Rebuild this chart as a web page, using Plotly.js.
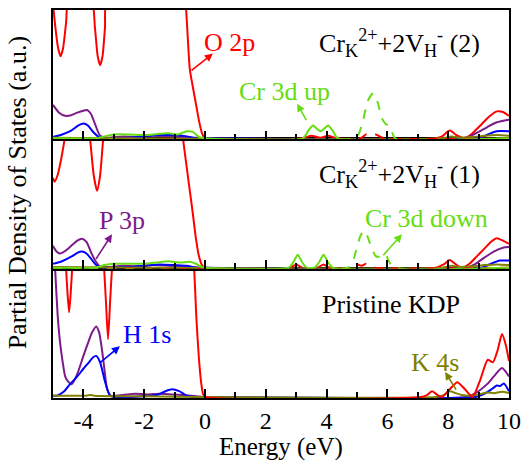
<!DOCTYPE html>
<html>
<head>
<meta charset="utf-8">
<script src="https://cdn.plot.ly/plotly-3.0.1.min.js"></script>
<style>html,body{margin:0;padding:0;background:#fff;}#chart{width:522px;height:460px;}</style>
</head>
<body>
<div id="chart"></div>
<script>
// ---------- tick labels ----------
const energyTickVals = [-4, -2, 0, 2, 4, 6, 8, 10];
const energyTickText = ['-4', '-2', '0', '2', '4', '6', '8', '10'];

// ---------- top panel: Cr_K(2+) + 2V_H(-) (2) ----------
const top_O2p_E = [-5, -4.92, -4.83, -4.75, -4.67, -4.57, -4.47, -3.75, -3.62, -3.53, -3.45, -3.37, -3.29, -3.2, -0.7, -0.62, -0.5, -0.4, -0.3, -0.2, -0.1, 0, 3.2, 3.5, 3.8, 4.05, 4.35, 7.6, 7.8, 8.05, 8.3, 8.55, 8.8, 9.1, 9.35, 9.6, 9.8, 10];
const top_O2p_D = [10.5, 8.6, 7.0, 6.4, 7.0, 9.0, 11, 11, 8.6, 6.4, 5.7, 6.4, 8.6, 11, 12, 10, 5.4, 4.0, 2.7, 1.4, 0.4, 0, 0, 0.2, 0.05, 0.2, 0, 0, 0.15, 0.6, 0.2, 0, 0.4, 1.1, 1.7, 2.1, 2.05, 1.75];
const top_O2pDn_E = [-5, 5.1, 5.3, 5.45, 5.6, 5.75, 5.9, 10];
const top_O2pDn_D = [0, 0, 0.3, 0.15, 0.3, 0.15, 0, 0];
const top_P3p_E = [-5, -4.8, -4.6, -4.4, -4.2, -4.0, -3.88, -3.75, -3.6, -3.45, -3.2, -2.7, -2.2, -1.7, -1.2, -0.8, -0.4, 0, 8.4, 8.7, 9.0, 9.3, 9.6, 10];
const top_P3p_D = [2.6, 2.0, 1.75, 1.8, 2.0, 2.15, 2.2, 1.9, 1.0, 0.2, 0.05, 0.15, 0.1, 0.2, 0.15, 0.1, 0.05, 0, 0, 0.15, 0.5, 0.9, 1.25, 1.45];
const top_H1s_E = [-5, -4.7, -4.4, -4.2, -4.0, -3.85, -3.7, -3.5, -3.3, -2.5, -2.0, -1.5, -1.0, -0.6, -0.3, 0, 9.0, 9.3, 9.6, 10];
const top_H1s_D = [0.1, 0.3, 0.6, 0.95, 1.15, 1.0, 0.55, 0.12, 0, 0.05, 0.15, 0.25, 0.25, 0.15, 0, 0, 0, 0.3, 0.55, 0.55];
const top_K4s_E = [-5, 7.8, 8.1, 8.4, 8.8, 9.2, 9.6, 10];
const top_K4s_D = [0.05, 0, 0.15, 0.05, 0.1, 0.2, 0.25, 0.2];
const top_Cr3dUp_E = [-5, -3.6, -3.3, -3.0, -2.5, -2.0, -1.5, -1.2, -0.9, -0.6, -0.4, -0.2, 0, 3.22, 3.4, 3.55, 3.68, 3.8, 3.92, 4.05, 4.2, 4.37, 10];
const top_Cr3dUp_D = [0, 0, 0.15, 0.3, 0.3, 0.25, 0.35, 0.4, 0.3, 0.55, 0.5, 0.1, 0, 0, 0.6, 1.0, 0.75, 0.55, 0.75, 1.0, 0.6, 0, 0];
const top_Cr3dDn_E = [-5, 4.9, 5.05, 5.2, 5.35, 5.53, 5.68, 5.82, 5.95, 6.05, 6.15, 6.25, 10];
const top_Cr3dDn_D = [0, 0, 0.3, 1.4, 2.9, 3.5, 2.8, 1.55, 1.1, 1.0, 0.5, 0, 0];

// ---------- middle panel: Cr_K(2+) + 2V_H(-) (1) ----------
const mid_O2p_E = [-5, -4.95, -4.85, -4.72, -4.6, -4.5, -3.9, -3.78, -3.66, -3.55, -3.45, -3.35, -3.25, -0.8, -0.72, -0.6, -0.5, -0.4, -0.3, -0.2, -0.1, 0, 2.8, 3.0, 3.2, 3.7, 3.9, 4.1, 7.6, 7.85, 8.05, 8.25, 8.45, 8.7, 8.95, 9.2, 9.4, 9.6, 9.8, 10];
const mid_O2p_D = [7.0, 6.7, 7.2, 8.6, 10.3, 12, 12, 10, 7.2, 6.0, 7.2, 10, 12, 12, 10, 7.8, 6.0, 4.2, 2.3, 0.9, 0.2, 0, 0, 0.25, 0, 0, 0.25, 0, 0, 0.25, 0.6, 0.25, 0, 0.3, 0.9, 1.5, 2.0, 2.3, 2.1, 1.85];
const mid_O2pDn_E = [-5, 4.85, 5.0, 5.15, 5.3, 5.45, 5.6, 10];
const mid_O2pDn_D = [0, 0, 0.25, 0.15, 0.3, 0.15, 0, 0];
const mid_P3p_E = [-5, -4.9, -4.77, -4.6, -4.4, -4.2, -4.05, -3.9, -3.75, -3.6, -3.45, -3.2, -2.7, -2.2, -1.7, -1.2, -0.8, -0.4, 0, 8.6, 8.9, 9.2, 9.5, 9.8, 10];
const mid_P3p_D = [1.7, 1.3, 1.1, 1.3, 1.7, 2.1, 2.25, 2.0, 1.2, 0.5, 0.1, 0.05, 0.15, 0.1, 0.2, 0.15, 0.1, 0.05, 0, 0, 0.3, 0.8, 1.25, 1.55, 1.6];
const mid_H1s_E = [-5, -4.7, -4.4, -4.2, -4.05, -3.9, -3.75, -3.6, -3.4, -2.5, -2.0, -1.5, -1.0, -0.6, -0.3, 0, 9.1, 9.4, 9.7, 10];
const mid_H1s_D = [0.3, 0.5, 0.85, 1.15, 1.25, 1.1, 0.7, 0.25, 0, 0.05, 0.15, 0.25, 0.2, 0.15, 0, 0, 0, 0.3, 0.55, 0.55];
const mid_K4s_E = [-5, 7.8, 8.1, 8.4, 8.8, 9.2, 9.6, 10];
const mid_K4s_D = [0.05, 0, 0.15, 0.05, 0.1, 0.2, 0.25, 0.2];
const mid_Cr3dUp_E = [-5, -3.6, -3.3, -3.0, -2.5, -2.0, -1.6, -1.2, -0.8, -0.5, -0.3, -0.1, 0, 2.75, 2.9, 3.05, 3.2, 3.35, 3.6, 3.75, 3.9, 4.05, 4.2, 10];
const mid_Cr3dUp_D = [0, 0, 0.2, 0.3, 0.3, 0.3, 0.4, 0.5, 0.4, 0.45, 0.3, 0.05, 0, 0, 0.4, 1.0, 0.4, 0, 0, 0.4, 1.0, 0.4, 0, 0];
const mid_Cr3dDn_E = [-5, 4.7, 4.85, 5.0, 5.1, 5.23, 5.35, 5.5, 5.62, 5.72, 5.85, 5.95, 6.05, 6.2, 10];
const mid_Cr3dDn_D = [0, 0, 0.4, 1.6, 2.4, 2.9, 2.4, 1.4, 0.9, 0.85, 1.1, 1.0, 0.5, 0, 0];

// ---------- bottom panel: Pristine KDP ----------
const bot_O2p_E = [-5, -4.62, -4.57, -4.52, -4.47, -4.42, -4.37, -4.3, -3.4, -3.32, -3.26, -3.19, -3.12, -3.06, -3.0, -0.45, -0.36, -0.28, -0.2, -0.12, -0.06, 0, 7.1, 7.3, 7.47, 7.65, 7.8, 8.05, 8.3, 8.55, 8.8, 9.05, 9.3, 9.47, 9.62, 9.77, 9.9, 10];
const bot_O2p_D = [13, 12, 10, 8, 6.6, 8, 10, 12, 12, 10, 7.5, 4.5, 7.5, 10, 12, 12, 10, 6, 3, 1, 0.2, 0, 0, 0.15, 0.45, 0.15, 0, 0.6, 1.15, 0.6, 0, 1.3, 2.9, 2.7, 3.6, 4.9, 4.0, 2.8];
const bot_P3p_E = [-5, -4.93, -4.85, -4.77, -4.68, -4.6, -4.5, -4.38, -4.2, -4.0, -3.85, -3.72, -3.58, -3.48, -3.39, -3.3, -3.22, -3.1, -2.7, -2.3, -1.9, -1.5, -1.1, -0.7, -0.3, 0, 8.6, 8.9, 9.28, 9.5, 9.77, 10];
const bot_P3p_D = [14, 10, 6.5, 4.3, 2.7, 1.6, 1.2, 1.0, 1.8, 3.2, 4.2, 5.0, 5.5, 5.0, 3.7, 2.0, 0.6, 0.1, 0.15, 0.25, 0.2, 0.25, 0.2, 0.15, 0.05, 0, 0, 0.3, 1.0, 1.6, 2.25, 1.6];
const bot_H1s_E = [-5, -4.87, -4.65, -4.44, -4.2, -4.0, -3.82, -3.68, -3.58, -3.45, -3.29, -3.12, -2.9, -2.0, -1.58, -1.3, -1.08, -0.85, -0.6, -0.3, 0, 8.9, 9.15, 9.4, 9.6, 9.7, 9.83, 10];
const bot_H1s_D = [0.1, 0.1, 0.4, 1.0, 1.6, 2.2, 2.7, 3.1, 3.2, 2.7, 1.2, 0.1, 0, 0.05, 0.15, 0.45, 0.6, 0.45, 0.1, 0, 0, 0, 0.2, 0.55, 0.9, 0.85, 1.05, 0.45];
const bot_K4s_E = [-5, -3.9, -3.78, -3.65, -2, 0, 7.6, 7.85, 8.05, 8.25, 8.45, 8.7, 9.0, 9.28, 9.5, 9.77, 10];
const bot_K4s_D = [0.1, 0.1, 0.15, 0.1, 0.05, 0, 0, 0.15, 0.45, 0.3, 0.15, 0.1, 0.2, 0.35, 0.3, 0.4, 0.3];

// ---------- colours ----------
const cO = '#ff0000', cP = '#7d1a8a', cH = '#0000ff', cK = '#808000', cCr = '#66dd11';
const SERIF = 'Liberation Serif';

function tr(E, D, color, xa, ya, dash) {
  return {x: E, y: D, type: 'scatter', mode: 'lines', xaxis: xa, yaxis: ya,
    line: {color: color, width: 2, shape: 'spline', smoothing: 0.6, dash: dash || 'solid'},
    hoverinfo: 'skip', showlegend: false};
}

const data = [
  tr(top_O2p_E, top_O2p_D, cO, 'x3', 'y3'),
  tr(top_P3p_E, top_P3p_D, cP, 'x3', 'y3'),
  tr(top_H1s_E, top_H1s_D, cH, 'x3', 'y3'),
  tr(top_K4s_E, top_K4s_D, cK, 'x3', 'y3'),
  tr(top_O2pDn_E, top_O2pDn_D, cO, 'x3', 'y3', 'dash'),
  tr(top_Cr3dDn_E, top_Cr3dDn_D, cCr, 'x3', 'y3', 'dash'),
  tr(top_Cr3dUp_E, top_Cr3dUp_D, cCr, 'x3', 'y3'),
  tr(mid_O2p_E, mid_O2p_D, cO, 'x2', 'y2'),
  tr(mid_P3p_E, mid_P3p_D, cP, 'x2', 'y2'),
  tr(mid_H1s_E, mid_H1s_D, cH, 'x2', 'y2'),
  tr(mid_K4s_E, mid_K4s_D, cK, 'x2', 'y2'),
  tr(mid_O2pDn_E, mid_O2pDn_D, cO, 'x2', 'y2', 'dash'),
  tr(mid_Cr3dDn_E, mid_Cr3dDn_D, cCr, 'x2', 'y2', 'dash'),
  tr(mid_Cr3dUp_E, mid_Cr3dUp_D, cCr, 'x2', 'y2'),
  tr(bot_P3p_E, bot_P3p_D, cP, 'x', 'y'),
  tr(bot_H1s_E, bot_H1s_D, cH, 'x', 'y'),
  tr(bot_K4s_E, bot_K4s_D, cK, 'x', 'y'),
  tr(bot_O2p_E, bot_O2p_D, cO, 'x', 'y')
];

function xax(anchor, labels) {
  const a = {
    anchor: anchor, domain: [0, 1], range: [-5, 10],
    tickmode: 'array', tickvals: energyTickVals, ticktext: energyTickText,
    showticklabels: labels, ticks: 'inside', ticklen: 9, tickwidth: 1.5, tickcolor: '#000',
    minor: {tickmode: 'linear', tick0: 0, dtick: 1, ticks: 'inside', ticklen: 6, tickwidth: 1.5, tickcolor: '#000'},
    showline: true, mirror: true, linecolor: '#000', linewidth: 1.5,
    showgrid: false, zeroline: false,
    tickfont: {family: SERIF, size: 24, color: '#000'}
  };
  if (anchor !== 'y') a.matches = 'x';
  return a;
}
function yax(dom) {
  return {domain: dom, range: [-0.08, 10], showticklabels: false, ticks: '',
    showline: true, mirror: true, linecolor: '#000', linewidth: 1.5,
    showgrid: false, zeroline: false, fixedrange: true};
}

function lbl(text, x, y, xr, yr, color) {
  return {text: text, x: x, y: y, xref: xr, yref: yr, showarrow: false,
    font: {family: SERIF, size: 26, color: color}};
}
function arr(hx, hy, tx, ty, xr, yr, color) {
  return {text: '', x: hx, y: hy, ax: tx, ay: ty, xref: xr, yref: yr, axref: xr, ayref: yr,
    showarrow: true, arrowhead: 2, arrowsize: 1, arrowwidth: 1.6, arrowcolor: color, standoff: 0, startstandoff: 0};
}

const annotations = [
  lbl('O 2p', 0.82, 7.5, 'x3', 'y3', cO),
  arr(0.26, 6.6, -0.49, 5.2, 'x3', 'y3', cO),
  lbl('Cr<sub>K</sub><sup>2+</sup>+2V<sub>H</sub><sup>-</sup> (2)', 6.41, 7.4, 'x3', 'y3', '#000'),
  lbl('Cr 3d up', 2.6, 3.65, 'x3', 'y3', cCr),
  arr(3.03, 2.7, 3.36, 1.3, 'x3', 'y3', cCr),
  lbl('Cr<sub>K</sub><sup>2+</sup>+2V<sub>H</sub><sup>-</sup> (1)', 6.41, 7.3, 'x2', 'y2', '#000'),
  lbl('P 3p', -2.73, 3.65, 'x2', 'y2', cP),
  arr(-3.06, 2.6, -3.62, 0.55, 'x2', 'y2', cP),
  lbl('Cr 3d down', 7.3, 3.8, 'x2', 'y2', cCr),
  arr(6.48, 2.6, 5.82, 0.85, 'x2', 'y2', cCr),
  lbl('Pristine KDP', 6.12, 7.2, 'x', 'y', '#000'),
  lbl('H 1s', -1.9, 4.9, 'x', 'y', cH),
  arr(-2.8, 3.95, -3.52, 2.55, 'x', 'y', cH),
  lbl('K 4s', 7.57, 2.7, 'x', 'y', cK),
  arr(7.9, 1.95, 8.29, 0.45, 'x', 'y', cK),
  {text: 'Partial Density of States (a.u.)', textangle: -90, xref: 'paper', yref: 'paper',
   x: -0.079, y: 0.53, xanchor: 'center', yanchor: 'middle', showarrow: false,
   font: {family: SERIF, size: 26, color: '#000'}},
  {text: 'Energy (eV)', xref: 'paper', yref: 'paper', x: 0.5, y: -0.125,
   xanchor: 'center', yanchor: 'middle', showarrow: false,
   font: {family: SERIF, size: 25, color: '#000'}}
];

const layout = {
  width: 522, height: 460,
  margin: {l: 53, r: 13, t: 10, b: 62},
  paper_bgcolor: '#fff', plot_bgcolor: '#fff',
  font: {family: SERIF, size: 26, color: '#000'},
  showlegend: false,
  xaxis: xax('y', true),
  xaxis2: xax('y2', false),
  xaxis3: xax('y3', false),
  yaxis: yax([0, 1/3]),
  yaxis2: yax([1/3, 2/3]),
  yaxis3: yax([2/3, 1]),
  annotations: annotations
};

Plotly.newPlot('chart', data, layout, {displayModeBar: false});
</script>
</body>
</html>
